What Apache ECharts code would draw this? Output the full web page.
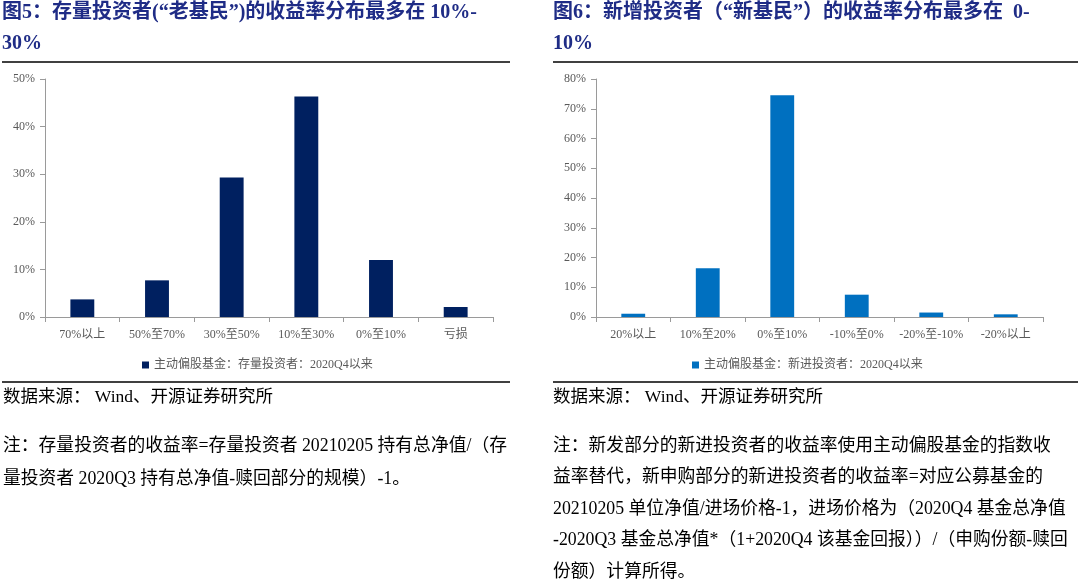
<!DOCTYPE html>
<html>
<head>
<meta charset="utf-8">
<script src="https://cdn.jsdelivr.net/npm/echarts@6/dist/echarts.min.js"></script>
<style>
html,body{margin:0;padding:0;background:#fff;}
#chart{width:1080px;height:587px;}
</style>
</head>
<body>
<div id="chart"></div>
<script>
// ---- data ----
const leftCategories = ['70%以上', '50%至70%', '30%至50%', '10%至30%', '0%至10%', '亏损'];
const leftValues = [3.7, 7.7, 29.3, 46.3, 12.0, 2.1];
const leftSeriesName = '主动偏股基金：存量投资者：2020Q4以来';

const rightCategories = ['20%以上', '10%至20%', '0%至10%', '-10%至0%', '-20%至-10%', '-20%以上'];
const rightValues = [1.1, 16.4, 74.5, 7.5, 1.5, 0.9];
const rightSeriesName = '主动偏股基金：新进投资者：2020Q4以来';

const leftTitle = ['图5：存量投资者(“老基民”)的收益率分布最多在 10%-', '30%'];
const rightTitle = ['图6：新增投资者（“新基民”）的收益率分布最多在  0-', '10%'];
const sourceText = '数据来源： Wind、开源证券研究所';
const leftNote = [
  '注：存量投资者的收益率=存量投资者 20210205 持有总净值/（存',
  '量投资者 2020Q3 持有总净值-赎回部分的规模）-1。'
];
const rightNote = [
  '注：新发部分的新进投资者的收益率使用主动偏股基金的指数收',
  '益率替代，新申购部分的新进投资者的收益率=对应公募基金的',
  '20210205 单位净值/进场价格-1，进场价格为（2020Q4 基金总净值',
  '-2020Q3 基金总净值*（1+2020Q4 该基金回报））/（申购份额-赎回',
  '份额）计算所得。'
];

// ---- styles ----
const serif = "'Liberation Serif','Noto Sans CJK SC',serif";
const titleColor = '#1F2C86';
const axisColor = '#9A9A9A';
const labelColor = '#595959';

function txt(x, y, text, size, color, weight) {
  return {
    type: 'text', left: x, top: y,
    style: { text: text, font: (weight || 'normal') + ' ' + size + 'px ' + serif, fill: color }
  };
}
function hline(x1, x2, y) {
  return { type: 'line', shape: { x1: x1, y1: y, x2: x2, y2: y }, style: { stroke: '#000', lineWidth: 1.5 } };
}

const graphics = [];
// titles
graphics.push(txt(2, 3, leftTitle[0], 20, titleColor, 'bold'));
graphics.push(txt(2, 34, leftTitle[1], 20, titleColor, 'bold'));
graphics.push(txt(553, 3, rightTitle[0], 20, titleColor, 'bold'));
graphics.push(txt(553, 34, rightTitle[1], 20, titleColor, 'bold'));
graphics.push(hline(2, 510, 62));
graphics.push(hline(553, 1078, 62));
// separators & sources
graphics.push(hline(2, 510, 382));
graphics.push(hline(553, 1078, 382));
graphics.push(txt(3, 389, sourceText, 17.5, '#000'));
graphics.push(txt(553, 389, sourceText, 17.5, '#000'));
// notes
leftNote.forEach((l, i) => graphics.push(txt(3, 437 + i * 33, l, 17.8, '#000')));
rightNote.forEach((l, i) => graphics.push(txt(553, 437 + i * 31.5, l, 17.8, '#000')));

function xAxisCfg(cats, gi) {
  return {
    type: 'category', gridIndex: gi, data: cats,
    axisLine: { lineStyle: { color: axisColor } },
    axisTick: { show: true, alignWithLabel: false, length: 5, lineStyle: { color: axisColor } },
    axisLabel: { color: labelColor, fontFamily: serif, fontSize: 12, margin: 12, interval: 0 }
  };
}
function yAxisCfg(max, gi) {
  return {
    type: 'value', gridIndex: gi, min: 0, max: max, interval: 10,
    axisLine: { show: true, lineStyle: { color: axisColor } },
    axisTick: { show: true, length: 5, lineStyle: { color: axisColor } },
    splitLine: { show: false },
    axisLabel: { formatter: '{value}%', color: labelColor, fontFamily: serif, fontSize: 12, margin: 10 }
  };
}

const option = {
  animation: false,
  backgroundColor: '#fff',
  grid: [
    { left: 45, top: 79, width: 448, height: 238 },
    { left: 596, top: 79, width: 447, height: 238 }
  ],
  legend: [
    { data: [leftSeriesName], left: 137, top: 354, itemWidth: 7, itemHeight: 7, itemGap: 4,
      icon: 'rect', textStyle: { color: labelColor, fontFamily: serif, fontSize: 12 } },
    { data: [rightSeriesName], left: 687, top: 354, itemWidth: 7, itemHeight: 7,
      icon: 'rect', textStyle: { color: labelColor, fontFamily: serif, fontSize: 12 } }
  ],
  xAxis: [xAxisCfg(leftCategories, 0), xAxisCfg(rightCategories, 1)],
  yAxis: [yAxisCfg(50, 0), yAxisCfg(80, 1)],
  series: [
    { name: leftSeriesName, type: 'bar', xAxisIndex: 0, yAxisIndex: 0, data: leftValues,
      barWidth: '32%', itemStyle: { color: '#002060' } },
    { name: rightSeriesName, type: 'bar', xAxisIndex: 1, yAxisIndex: 1, data: rightValues,
      barWidth: '32%', itemStyle: { color: '#0070C0' } }
  ],
  graphic: graphics
};

const chart = echarts.init(document.getElementById('chart'), null, { renderer: 'canvas' });
chart.setOption(option);
</script>
</body>
</html>
